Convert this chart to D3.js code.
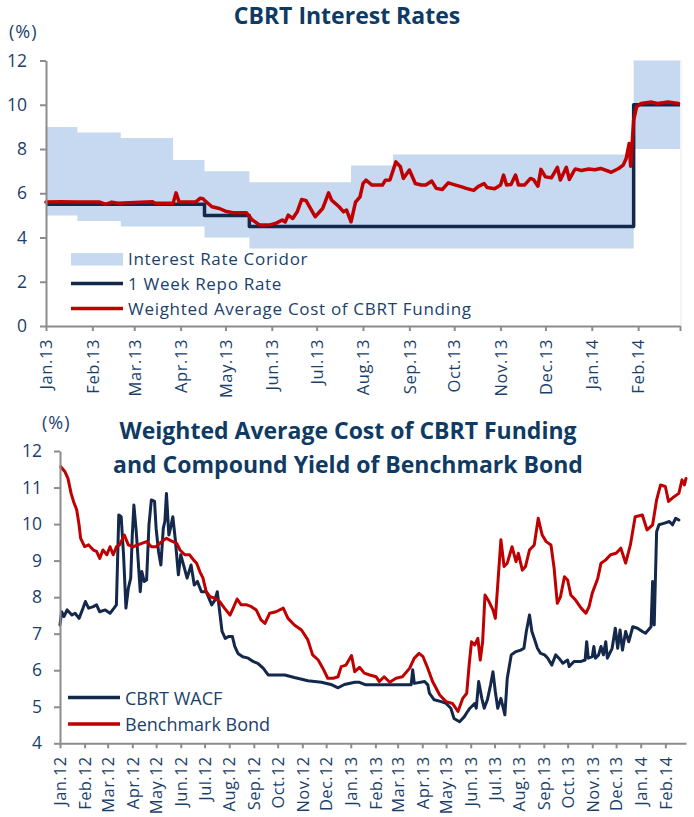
<!DOCTYPE html>
<html><head><meta charset="utf-8">
<script src="https://cdn.jsdelivr.net/npm/d3@7/dist/d3.min.js"></script>
<style>
body{margin:0;background:#fff}
text{font-family:"Open Sans",sans-serif}
</style>
</head><body>
<svg id="c" width="694" height="817"></svg>
<script>
// ---------- TOP CHART DATA ----------
const corridorDates = ["2013-01-01","2013-01-22","2013-02-20","2013-03-27","2013-04-17","2013-05-17","2013-07-24","2013-08-21","2014-01-29","2014-03-01"];
const corridorUpper = [9, 8.75, 8.5, 7.5, 7, 6.5, 7.25, 7.75, 12, 12];
const corridorLower = [5, 4.75, 4.5, 4.5, 4, 3.5, 3.5, 3.5, 8, 8];

const repoDates = ["2013-01-01","2013-04-17","2013-05-17","2014-01-29","2014-03-01"];
const repoRates = [5.5, 5, 4.5, 10, 10];

const wacfTopDates = ["2013-01-01","2013-01-11","2013-01-21","2013-02-06","2013-02-10","2013-02-14","2013-02-18","2013-03-13","2013-03-15","2013-03-27","2013-03-29","2013-03-31","2013-04-11","2013-04-14","2013-04-16","2013-04-18","2013-04-22","2013-04-27","2013-05-01","2013-05-06","2013-05-15","2013-05-19","2013-05-24","2013-05-30","2013-06-04","2013-06-08","2013-06-10","2013-06-12","2013-06-15","2013-06-18","2013-06-21","2013-06-24","2013-06-30","2013-07-05","2013-07-09","2013-07-11","2013-07-16","2013-07-19","2013-07-21","2013-07-24","2013-07-27","2013-07-30","2013-08-01","2013-08-03","2013-08-07","2013-08-14","2013-08-16","2013-08-19","2013-08-23","2013-08-26","2013-08-28","2013-09-01","2013-09-05","2013-09-09","2013-09-12","2013-09-16","2013-09-19","2013-09-23","2013-09-27","2013-10-02","2013-10-06","2013-10-09","2013-10-14","2013-10-17","2013-10-21","2013-10-23","2013-10-28","2013-11-01","2013-11-03","2013-11-05","2013-11-08","2013-11-11","2013-11-13","2013-11-17","2013-11-21","2013-11-23","2013-11-26","2013-11-28","2013-12-01","2013-12-05","2013-12-09","2013-12-11","2013-12-15","2013-12-17","2013-12-20","2013-12-21","2013-12-25","2013-12-30","2014-01-03","2014-01-07","2014-01-14","2014-01-19","2014-01-22","2014-01-24","2014-01-26","2014-01-27","2014-01-29","2014-01-31","2014-02-03","2014-02-10","2014-02-14","2014-02-21","2014-02-28"];
const wacfTopValues = [5.6,5.62,5.6,5.6,5.5,5.6,5.55,5.62,5.55,5.55,6.02,5.6,5.6,5.77,5.75,5.62,5.39,5.31,5.19,5.12,5.12,4.79,4.56,4.56,4.65,4.79,4.7,5.01,4.86,5.16,5.72,5.66,4.94,5.31,6.02,5.69,5.39,5.16,5.24,4.71,5.6,5.84,6.44,6.59,6.37,6.37,6.59,6.6,7.42,7.2,6.67,7.05,6.44,6.37,6.37,6.55,6.22,6.17,6.47,6.37,6.29,6.22,6.13,6.3,6.44,6.26,6.2,6.37,6.82,6.37,6.4,6.82,6.37,6.37,6.67,6.62,6.32,7.08,6.74,6.7,7.17,6.6,7.17,6.62,7.0,7.1,7.03,7.1,7.06,7.12,6.95,7.12,7.27,7.57,8.25,7.22,9.3,9.9,10.06,10.12,10.06,10.12,10.06];

const topYTicks = [0, 2, 4, 6, 8, 10, 12];
const topLegend = ["Interest Rate Coridor", "1 Week Repo Rate", "Weighted Average Cost of CBRT Funding"];

// ---------- BOTTOM CHART DATA ----------
const wacfDates = ["2012-01-01","2012-01-03","2012-01-06","2012-01-10","2012-01-16","2012-01-20","2012-01-25","2012-01-30","2012-02-02","2012-02-06","2012-02-12","2012-02-16","2012-02-20","2012-02-27","2012-03-04","2012-03-09","2012-03-12","2012-03-15","2012-03-18","2012-03-21","2012-03-24","2012-03-27","2012-03-30","2012-04-01","2012-04-03","2012-04-06","2012-04-11","2012-04-13","2012-04-16","2012-04-19","2012-04-22","2012-04-25","2012-04-29","2012-05-01","2012-05-04","2012-05-07","2012-05-10","2012-05-12","2012-05-14","2012-05-17","2012-05-20","2012-05-22","2012-05-25","2012-05-29","2012-06-01","2012-06-05","2012-06-09","2012-06-14","2012-06-18","2012-06-22","2012-06-27","2012-07-03","2012-07-10","2012-07-14","2012-07-17","2012-07-20","2012-07-23","2012-07-27","2012-07-31","2012-08-05","2012-08-08","2012-08-12","2012-08-18","2012-08-25","2012-08-31","2012-09-06","2012-09-13","2012-09-19","2012-09-27","2012-10-10","2012-10-22","2012-11-08","2012-11-25","2012-12-07","2012-12-16","2012-12-24","2013-01-06","2013-01-12","2013-01-20","2013-02-23","2013-03-18","2013-03-20","2013-03-22","2013-04-04","2013-04-08","2013-04-10","2013-04-16","2013-04-25","2013-05-01","2013-05-07","2013-05-11","2013-05-18","2013-05-24","2013-05-28","2013-05-31","2013-06-06","2013-06-08","2013-06-11","2013-06-15","2013-06-18","2013-06-22","2013-06-26","2013-06-29","2013-07-02","2013-07-05","2013-07-09","2013-07-12","2013-07-14","2013-07-17","2013-07-22","2013-07-28","2013-08-03","2013-08-07","2013-08-10","2013-08-14","2013-08-17","2013-08-20","2013-08-24","2013-08-28","2013-09-02","2013-09-06","2013-09-11","2013-09-16","2013-09-20","2013-09-25","2013-10-01","2013-10-03","2013-10-09","2013-10-18","2013-10-23","2013-10-25","2013-10-27","2013-11-01","2013-11-03","2013-11-05","2013-11-09","2013-11-12","2013-11-15","2013-11-18","2013-11-20","2013-11-26","2013-11-30","2013-12-03","2013-12-06","2013-12-09","2013-12-13","2013-12-17","2013-12-22","2013-12-28","2014-01-03","2014-01-07","2014-01-14","2014-01-16","2014-01-18","2014-01-21","2014-01-24","2014-01-30","2014-02-06","2014-02-10","2014-02-14","2014-02-18"];
const wacfValues = [7.24,7.6,7.47,7.65,7.51,7.56,7.42,7.7,7.88,7.7,7.74,7.79,7.6,7.65,7.56,7.7,7.79,10.25,10.2,9.16,7.7,8.24,8.52,9.7,10.52,9.79,8.15,8.7,8.43,8.47,9.98,10.66,10.62,9.88,9.25,8.88,9.88,10.07,10.84,9.7,9.98,10.2,9.61,8.61,9.16,8.84,8.52,8.88,8.33,8.43,8.15,8.15,7.79,7.92,8.15,7.6,7.06,6.87,6.92,6.92,6.65,6.46,6.37,6.33,6.24,6.19,6.05,5.87,5.87,5.87,5.8,5.71,5.67,5.61,5.52,5.61,5.67,5.67,5.6,5.6,5.6,6.01,5.64,5.69,5.6,5.37,5.19,5.14,5.09,4.96,4.68,4.59,4.73,4.87,4.96,5.09,4.96,5.69,5.23,4.96,5.19,5.6,5.96,5.41,4.96,5.23,4.96,4.78,5.78,6.42,6.51,6.55,6.6,7.06,7.51,7.06,6.87,6.6,6.46,6.42,6.33,6.14,6.42,6.33,6.19,6.28,6.1,6.24,6.24,6.28,6.78,6.33,6.37,6.65,6.33,6.42,6.65,6.42,6.78,6.33,6.6,7.15,6.6,7.1,6.55,7.06,6.78,7.19,7.15,7.06,7.01,7.19,8.43,7.24,9.79,9.98,10.02,10.07,9.98,10.16,10.11];

const bondDates = ["2012-01-02","2012-01-07","2012-01-11","2012-01-15","2012-01-18","2012-01-22","2012-01-25","2012-01-27","2012-02-01","2012-02-06","2012-02-12","2012-02-16","2012-02-20","2012-02-24","2012-02-29","2012-03-04","2012-03-08","2012-03-12","2012-03-16","2012-03-22","2012-03-27","2012-04-02","2012-04-08","2012-04-13","2012-04-19","2012-04-25","2012-05-01","2012-05-08","2012-05-14","2012-05-20","2012-05-27","2012-05-31","2012-06-06","2012-06-12","2012-06-17","2012-06-21","2012-06-25","2012-06-29","2012-07-03","2012-07-08","2012-07-14","2012-07-20","2012-07-26","2012-08-02","2012-08-06","2012-08-11","2012-08-16","2012-08-23","2012-08-29","2012-09-04","2012-09-10","2012-09-15","2012-09-21","2012-09-29","2012-10-08","2012-10-14","2012-10-22","2012-10-31","2012-11-08","2012-11-14","2012-11-21","2012-11-27","2012-12-03","2012-12-10","2012-12-16","2012-12-20","2012-12-26","2013-01-02","2013-01-06","2013-01-12","2013-01-18","2013-01-25","2013-02-02","2013-02-06","2013-02-12","2013-02-19","2013-02-27","2013-03-07","2013-03-16","2013-03-22","2013-03-28","2013-04-02","2013-04-08","2013-04-14","2013-04-23","2013-05-01","2013-05-09","2013-05-16","2013-05-22","2013-05-27","2013-05-30","2013-06-02","2013-06-06","2013-06-10","2013-06-13","2013-06-16","2013-06-19","2013-06-24","2013-06-29","2013-07-02","2013-07-05","2013-07-09","2013-07-13","2013-07-17","2013-07-23","2013-07-28","2013-07-31","2013-08-05","2013-08-09","2013-08-14","2013-08-20","2013-08-25","2013-08-30","2013-09-04","2013-09-10","2013-09-14","2013-09-18","2013-09-22","2013-09-27","2013-10-01","2013-10-05","2013-10-11","2013-10-18","2013-10-24","2013-10-28","2013-11-01","2013-11-08","2013-11-12","2013-11-18","2013-11-24","2013-12-01","2013-12-07","2013-12-13","2013-12-19","2013-12-25","2014-01-03","2014-01-09","2014-01-16","2014-01-21","2014-01-26","2014-02-01","2014-02-05","2014-02-12","2014-02-18","2014-02-22","2014-02-25","2014-02-27"];
const bondValues = [11.57,11.44,11.25,10.84,10.62,10.39,9.98,9.61,9.38,9.43,9.29,9.25,9.06,9.29,9.16,9.38,9.16,9.38,9.43,9.7,9.43,9.38,9.43,9.47,9.52,9.38,9.38,9.52,9.61,9.54,9.47,9.29,9.16,9.16,9.02,8.93,8.7,8.52,8.15,8.01,7.97,7.88,7.7,7.51,7.7,7.95,7.79,7.79,7.74,7.65,7.38,7.28,7.56,7.6,7.7,7.42,7.24,7.1,6.83,6.42,6.28,6.05,5.78,5.78,5.82,6.1,6.14,6.4,5.96,6.08,5.92,5.87,5.82,5.69,5.82,5.67,5.78,5.82,6.05,6.33,6.46,6.37,6.05,5.69,5.32,5.14,5.09,4.87,5.23,5.37,6.14,6.78,6.69,6.87,6.28,6.78,8.06,7.88,7.65,7.42,8.33,9.57,8.84,8.93,9.38,8.97,9.2,8.74,8.84,9.29,9.43,10.16,9.7,9.52,9.43,8.79,7.83,8.01,8.56,8.47,8.06,7.92,7.7,7.56,7.74,8.11,8.52,8.93,9.02,9.16,9.2,9.34,8.93,9.43,10.2,10.25,9.84,9.98,10.66,11.07,11.03,10.62,10.75,10.84,11.21,11.07,11.25];

const bottomYTicks = [4, 5, 6, 7, 8, 9, 10, 11, 12];
const bottomLegend = ["CBRT WACF", "Benchmark Bond"];

// ---------- DRAWING ----------
const parse = d3.timeParse("%Y-%m-%d");
const fmt = d3.timeFormat("%b.%y");
const NAVY = "#13284a", RED = "#c00000", BAND = "#c6d9f0", TXT = "#1b3f6b", TITLE = "#0e3a63", AXIS = "#8c8c8c";
const svg = d3.select("#c");

function styleAxis(g) {
  g.select(".domain").attr("stroke", AXIS).attr("stroke-width", 2);
  g.selectAll(".tick line").attr("stroke", AXIS).attr("stroke-width", 2);
  g.selectAll("text").attr("fill", TXT).style("font-family", "Open Sans, sans-serif");
}

// ===== Top chart =====
const x1 = d3.scaleTime().domain([parse("2013-01-01"), parse("2014-03-01")]).range([46, 680]);
const y1 = d3.scaleLinear().domain([0, 12]).range([326, 60.5]);

svg.append("text").attr("x", 347).attr("y", 24).attr("text-anchor", "middle")
  .attr("font-weight", 700).attr("font-size", 23).attr("fill", TITLE).text("CBRT Interest Rates");
svg.append("text").attr("x", 9).attr("y", 38).attr("font-size", 18).attr("letter-spacing", 1).attr("fill", TXT).text("(%)");

// right border line
svg.append("line").attr("x1", 681).attr("x2", 681).attr("y1", 60).attr("y2", 326)
  .attr("stroke", "#e8e8e8").attr("stroke-width", 1);

const corridor = corridorDates.map((d, i) => ({d: parse(d), hi: corridorUpper[i], lo: corridorLower[i]}));
svg.append("path").datum(corridor)
  .attr("d", d3.area().curve(d3.curveStepAfter).x(d => x1(d.d)).y0(d => y1(d.lo)).y1(d => y1(d.hi)))
  .attr("fill", BAND);

const repo = repoDates.map((d, i) => ({d: parse(d), v: repoRates[i]}));
svg.append("path").datum(repo)
  .attr("d", d3.line().curve(d3.curveStepAfter).x(d => x1(d.d)).y(d => y1(d.v)))
  .attr("fill", "none").attr("stroke", NAVY).attr("stroke-width", 3.5).attr("stroke-linejoin", "round");

const wtop = wacfTopDates.map((d, i) => ({d: parse(d), v: wacfTopValues[i]}));
svg.append("path").datum(wtop)
  .attr("d", d3.line().x(d => x1(d.d)).y(d => y1(d.v)))
  .attr("fill", "none").attr("stroke", RED).attr("stroke-width", 3.5).attr("stroke-linejoin", "round").attr("stroke-linecap", "round");

const gy1 = svg.append("g").attr("transform", "translate(46,0)")
  .call(d3.axisLeft(y1).tickValues(topYTicks).tickSize(6).tickSizeOuter(0).tickPadding(13).tickFormat(d3.format("d")));
gy1.selectAll("text").attr("font-size", 17.5);
styleAxis(gy1);

const gx1 = svg.append("g").attr("transform", "translate(0,326)")
  .call(d3.axisBottom(x1).ticks(d3.timeMonth.every(1)).tickSize(5).tickSizeOuter(0)
    .tickFormat(d => (d.getFullYear() === 2014 && d.getMonth() === 2) ? "" : fmt(d)));
gx1.selectAll("text").attr("font-size", 16.5).attr("letter-spacing", 0.6).attr("transform", "rotate(-90)")
  .attr("text-anchor", "end").attr("x", -13).attr("y", 0).attr("dy", "0.35em");
styleAxis(gx1);

// top legend
const lg1 = svg.append("g");
lg1.append("rect").attr("x", 71).attr("y", 253).attr("width", 52).attr("height", 12.5).attr("fill", BAND);
lg1.append("line").attr("x1", 71).attr("x2", 123).attr("y1", 283.5).attr("y2", 283.5).attr("stroke", NAVY).attr("stroke-width", 3.5);
lg1.append("line").attr("x1", 71).attr("x2", 123).attr("y1", 308.5).attr("y2", 308.5).attr("stroke", RED).attr("stroke-width", 3.5);
[265, 290, 315].forEach((yy, i) => {
  lg1.append("text").attr("x", 128).attr("y", yy).attr("font-size", 17).attr("letter-spacing", 0.7)
    .attr("fill", TXT).text(topLegend[i]);
});

// ===== Bottom chart =====
const x2 = d3.scaleTime().domain([parse("2012-01-01"), parse("2014-02-27")]).range([60, 686]);
const y2 = d3.scaleLinear().domain([4, 12]).range([743.3, 451]);

svg.append("text").attr("x", 348).attr("y", 439).attr("text-anchor", "middle")
  .attr("font-weight", 700).attr("font-size", 23).attr("fill", TITLE).text("Weighted Average Cost of CBRT Funding");
svg.append("text").attr("x", 348).attr("y", 473).attr("text-anchor", "middle")
  .attr("font-weight", 700).attr("font-size", 23).attr("fill", TITLE).text("and Compound Yield of Benchmark Bond");
svg.append("text").attr("x", 42).attr("y", 429).attr("font-size", 18).attr("letter-spacing", 1).attr("fill", TXT).text("(%)");

const wb = wacfDates.map((d, i) => ({d: parse(d), v: wacfValues[i]}));
const bb = bondDates.map((d, i) => ({d: parse(d), v: bondValues[i]}));
const line2 = d3.line().x(d => x2(d.d)).y(d => y2(d.v));
svg.append("path").datum(wb).attr("d", line2).attr("fill", "none").attr("stroke", NAVY)
  .attr("stroke-width", 3).attr("stroke-linejoin", "round").attr("stroke-linecap", "round");
svg.append("path").datum(bb).attr("d", line2).attr("fill", "none").attr("stroke", RED)
  .attr("stroke-width", 3).attr("stroke-linejoin", "round").attr("stroke-linecap", "round");

const gy2 = svg.append("g").attr("transform", "translate(60,0)")
  .call(d3.axisLeft(y2).tickValues(bottomYTicks).tickSize(6).tickSizeOuter(0).tickPadding(12).tickFormat(d3.format("d")));
gy2.selectAll("text").attr("font-size", 17.5);
styleAxis(gy2);

const gx2 = svg.append("g").attr("transform", "translate(0,743.3)")
  .call(d3.axisBottom(x2).ticks(d3.timeMonth.every(1)).tickSize(5).tickSizeOuter(0).tickFormat(fmt));
gx2.selectAll("text").attr("font-size", 16.5).attr("letter-spacing", 0.4).attr("transform", "rotate(-90)")
  .attr("text-anchor", "end").attr("x", -13).attr("y", 0).attr("dy", "0.35em");
styleAxis(gx2);

// bottom legend
const lg2 = svg.append("g");
lg2.append("line").attr("x1", 68).attr("x2", 120).attr("y1", 697.5).attr("y2", 697.5).attr("stroke", NAVY).attr("stroke-width", 3.5);
lg2.append("line").attr("x1", 68).attr("x2", 120).attr("y1", 724).attr("y2", 724).attr("stroke", RED).attr("stroke-width", 3.5);
[705, 731].forEach((yy, i) => {
  lg2.append("text").attr("x", 125).attr("y", yy).attr("font-size", 18).attr("fill", TXT).text(bottomLegend[i]);
});
</script>
</body></html>
